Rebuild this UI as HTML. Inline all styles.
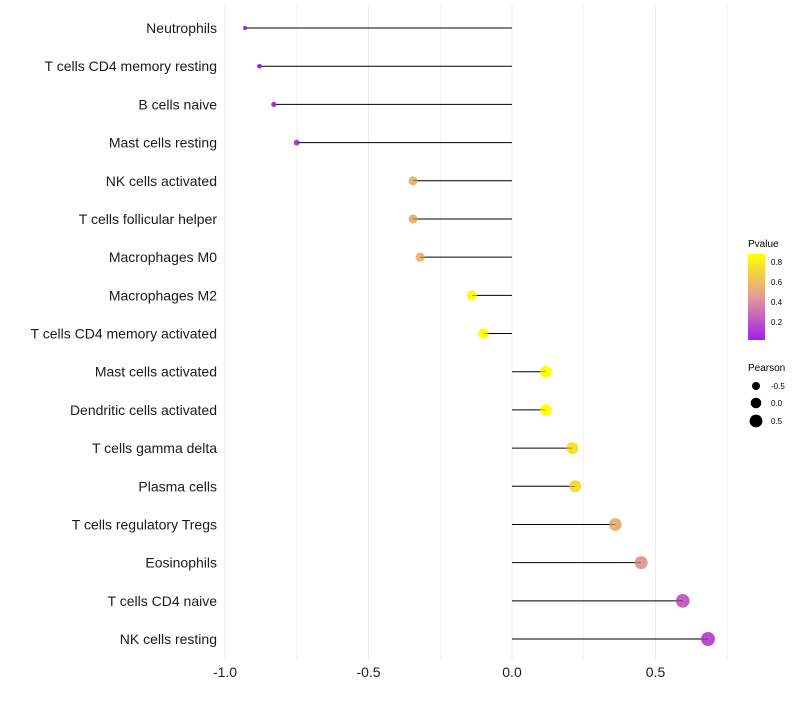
<!DOCTYPE html>
<html><head><meta charset="utf-8"><style>
body{margin:0;background:#fff;font-family:"Liberation Sans",sans-serif}
</style></head><body>
<svg id="chart" width="800" height="700" xmlns="http://www.w3.org/2000/svg" style="font-family:'Liberation Sans',sans-serif">
<defs><linearGradient id="pg" x1="0" y1="1" x2="0" y2="0">
<stop offset="0" stop-color="#A020F0"/><stop offset="0.5" stop-color="#E39A98"/><stop offset="1" stop-color="#FFFF00"/></linearGradient></defs>
<g id="grid"></g>
<g id="marks"></g>
<g id="legend">
<text x="748" y="247" font-size="10">Pvalue</text>
<rect x="748" y="254" width="17" height="86" fill="url(#pg)"/>
<text x="771" y="265" font-size="8">0.8</text>
<text x="771" y="285" font-size="8">0.6</text>
<text x="771" y="305" font-size="8">0.4</text>
<text x="771" y="325" font-size="8">0.2</text>
<text x="748" y="371" font-size="10">Pearson</text>
<circle cx="756" cy="386" r="4"/>
<circle cx="756" cy="403" r="5.3"/>
<circle cx="756" cy="421" r="6.4"/>
<text x="771" y="389" font-size="8">-0.5</text>
<text x="771" y="406" font-size="8">0.0</text>
<text x="771" y="424" font-size="8">0.5</text>
</g>
</svg>
<script>
const categories=["Neutrophils","T cells CD4 memory resting","B cells naive","Mast cells resting","NK cells activated","T cells follicular helper","Macrophages M0","Macrophages M2","T cells CD4 memory activated","Mast cells activated","Dendritic cells activated","T cells gamma delta","Plasma cells","T cells regulatory  Tregs ","Eosinophils","T cells CD4 naive","NK cells resting"];
const pearson=[-0.93,-0.88,-0.83,-0.75,-0.345,-0.345,-0.32,-0.14,-0.10,0.118,0.118,0.21,0.22,0.36,0.45,0.595,0.683];
const pvalues=[0.02,0.05,0.08,0.12,0.55,0.55,0.57,0.9,0.9,0.92,0.92,0.75,0.72,0.55,0.45,0.25,0.18];
const xTicks=[-1.0,-0.5,0.0,0.5];
const xTickLabels=["-1.0","-0.5","0.0","0.5"];
const NS="http://www.w3.org/2000/svg";
const x=v=>512+v*287;
const y=i=>28+i*38.19;
const rad=v=>Math.sqrt(Math.max(1,30+28*v));
function hex(h){return [1,3,5].map(k=>parseInt(h.substr(k,2),16));}
const stops=[[0.02,hex("#A020F0")],[0.45,hex("#E39A98")],[0.88,hex("#FFFF00")]];
function col(p){p=Math.max(stops[0][0],Math.min(stops[2][0],p));let a=p<=stops[1][0]?stops[0]:stops[1],b=p<=stops[1][0]?stops[1]:stops[2];let t=(p-a[0])/(b[0]-a[0]);return "rgb("+a[1].map((c,k)=>Math.round(c+(b[1][k]-c)*t)).join(",")+")";}
function mk(t,at,parent){const e=document.createElementNS(NS,t);for(const k in at)e.setAttribute(k,at[k]);parent.appendChild(e);return e;}
const grid=document.getElementById('grid'),marks=document.getElementById('marks'),svg=document.getElementById('chart');
for(let v=-1.0;v<=0.76;v+=0.25){const g=mk('line',{x1:x(v),x2:x(v),y1:5,y2:660,stroke:'#EBEBEB','stroke-width':Math.abs(v*4%2)<0.01?1:0.6},grid);

}
xTicks.forEach((v,i)=>{const t=mk('text',{x:x(v),y:677,'font-size':14,'text-anchor':'middle',fill:'#1a1a1a'},svg);t.textContent=xTickLabels[i];

});
categories.forEach((c,i)=>{
const t=mk('text',{x:217,y:y(i)+5,'font-size':14,'text-anchor':'end',fill:'#1a1a1a'},svg);t.textContent=c;


const l=mk('line',{x1:x(0),x2:x(pearson[i]),y1:y(i),y2:y(i),stroke:'#000','stroke-width':1},marks);


const d=mk('circle',{cx:x(pearson[i]),cy:y(i),r:rad(pearson[i]),fill:col(pvalues[i])},marks);


const l2=mk('line',{x1:x(pearson[i])-(pearson[i]<0?0:rad(pearson[i])),x2:x(pearson[i])+(pearson[i]<0?rad(pearson[i]):0),y1:y(i),y2:y(i),stroke:'#000','stroke-width':0.6,opacity:0.6},marks);


});
</script>
</body></html>
